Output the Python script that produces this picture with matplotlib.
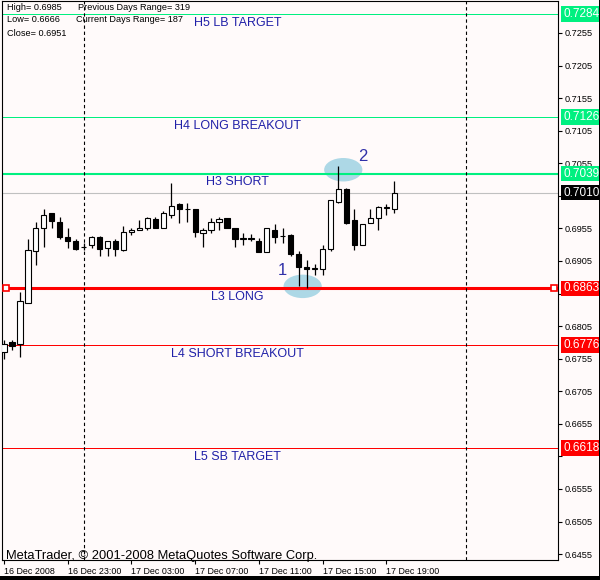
import matplotlib
matplotlib.use('Agg')
import matplotlib.pyplot as plt
from matplotlib.patches import Ellipse, Rectangle

plt.rcParams['font.family'] = ['Liberation Sans', 'DejaVu Sans']

W, H = 600, 580
bg = '#fffafa'

# 30 min candles, 16 Dec 2008 19:00 .. 17 Dec 19:30
opens = [0.6765, 0.6781, 0.6777, 0.6841, 0.6921, 0.6955, 0.6978, 0.6965, 0.6942, 0.6936,
         0.6927, 0.6929, 0.6942, 0.6925, 0.6936, 0.6922, 0.6950, 0.6953, 0.6956, 0.6970,
         0.6956, 0.6975, 0.6993, 0.6985, 0.6984, 0.6948, 0.6952, 0.6965, 0.6971, 0.6955,
         0.6939, 0.6941, 0.6936, 0.6919, 0.6953, 0.6944, 0.6945, 0.6915, 0.6895, 0.6893,
         0.6893, 0.6924, 0.6996, 0.7016, 0.6968, 0.6930, 0.6964, 0.6971, 0.6987, 0.6985]
highs = [0.6783, 0.6784, 0.6858, 0.6939, 0.6965, 0.6985, 0.6979, 0.6973, 0.6956, 0.6939,
         0.6932, 0.6944, 0.6944, 0.6936, 0.6938, 0.6958, 0.6956, 0.6968, 0.6973, 0.6973,
         0.6981, 0.7024, 0.6994, 0.6994, 0.6985, 0.6956, 0.6971, 0.6973, 0.6971, 0.6956,
         0.6948, 0.6947, 0.6941, 0.6955, 0.6962, 0.6956, 0.6947, 0.6921, 0.6906, 0.6901,
         0.6929, 0.6998, 0.7050, 0.7017, 0.6985, 0.6962, 0.6985, 0.6990, 0.6993, 0.7027]
lows = [0.6754, 0.6768, 0.6758, 0.6840, 0.6899, 0.6927, 0.6956, 0.6939, 0.6925, 0.6922,
        0.6922, 0.6925, 0.6912, 0.6912, 0.6912, 0.6921, 0.6945, 0.6952, 0.6953, 0.6955,
        0.6955, 0.6971, 0.6964, 0.6965, 0.6942, 0.6927, 0.6948, 0.6953, 0.6955, 0.6927,
        0.6930, 0.6935, 0.6918, 0.6919, 0.6932, 0.6932, 0.6913, 0.6866, 0.6863, 0.6884,
        0.6884, 0.6921, 0.6994, 0.6962, 0.6922, 0.6929, 0.6964, 0.6952, 0.6976, 0.6979]
closes = [0.6778, 0.6775, 0.6844, 0.6922, 0.6955, 0.6976, 0.6967, 0.6942, 0.6935, 0.6924,
          0.6927, 0.6941, 0.6924, 0.6935, 0.6924, 0.6950, 0.6952, 0.6956, 0.6971, 0.6956,
          0.6978, 0.6990, 0.6985, 0.6984, 0.6950, 0.6952, 0.6965, 0.6970, 0.6955, 0.6939,
          0.6941, 0.6939, 0.6918, 0.6955, 0.6942, 0.6943, 0.6915, 0.6896, 0.6892, 0.6894,
          0.6924, 0.6998, 0.7016, 0.6964, 0.6930, 0.6962, 0.6971, 0.6988, 0.6988, 0.7010]

time_labels = ['16 Dec 2008', '16 Dec 23:00', '17 Dec 03:00', '17 Dec 07:00',
               '17 Dec 11:00', '17 Dec 15:00', '17 Dec 19:00']
time_idx = [0, 8, 16, 24, 32, 40, 48]
day_breaks = [10, 58]

levels = [0.7284, 0.7126, 0.7039, 0.6863, 0.6776, 0.6618]
level_names = ['H5 LB TARGET', 'H4 LONG BREAKOUT', 'H3 SHORT',
               'L3 LONG', 'L4 SHORT BREAKOUT', 'L5 SB TARGET']
current_price = 0.7010

yticks = [0.6455 + 0.005 * k for k in range(17)]
# labels hidden behind the price boxes
hidden_ticks = ['0.6605', '0.6855', '0.7005']

# marked swing points
mark_x = [37.5, 42.6]
mark_y = [0.6866, 0.7045]
mark_num = ['1', '2']
mark_num_x = [34.9, 45.1]
mark_num_y = [0.6890, 0.7066]

green = '#00f080'
red = '#ff0000'
level_colors = [green, green, green, red, red, red]
level_widths = [0.72, 0.72, 1.5, 2.2, 0.72, 0.72]
blue_txt = '#2020a8'


def px(x):
    return x / W


def py(y):
    return 1 - y / H


fig = plt.figure(figsize=(6, 5.8), dpi=100, facecolor=bg)
ax = fig.add_axes([px(2), py(560), px(557.5) - px(2), py(1) - py(560)])
ax.set_facecolor(bg)

ax.set_xlim(-0.25, 69.5)
ax.set_ylim(0.6446, 0.7304)

# levels
for lvl, c, lw in zip(levels, level_colors, level_widths):
    ax.axhline(lvl, color=c, lw=lw, zorder=2)
ax.axhline(current_price, color='#c0c0c0', lw=0.8, zorder=2)

for d in day_breaks:
    ax.axvline(d, color='black', lw=0.8, ls=(0, (3, 2.5)), zorder=2)

# swing highlights
for mx, my in zip(mark_x, mark_y):
    ax.add_patch(Ellipse((mx, my), 4.8, 0.0036, color='#add8e6', lw=0, zorder=1.5))
for t, tx, ty in zip(mark_num, mark_num_x, mark_num_y):
    ax.text(tx, ty, t, color='#3030a8', fontsize=12, ha='center', va='center', zorder=5)

# candles
for i in range(len(opens)):
    o, h, l, c = opens[i], highs[i], lows[i], closes[i]
    ax.vlines(i, l, h, color='black', lw=0.9, zorder=3)
    fc = 'white' if c >= o else 'black'
    ax.bar(i, c - o, bottom=o, width=0.66, color=fc, edgecolor='black', lw=0.8, zorder=4)

# level texts
for lvl, name in zip(levels, level_names):
    ax.annotate(name, xy=(29.3, lvl), xytext=(0, -2), textcoords='offset points',
                ha='center', va='top', color=blue_txt, fontsize=9, zorder=5)

# L3 arrow markers
ax.plot([0.25, 69.1], [levels[3], levels[3]], ls='none', marker='s', ms=4.2,
        mfc='white', mec=red, mew=1.2, zorder=6, clip_on=False)

# axes style
for s in ax.spines.values():
    s.set_color('black')
    s.set_linewidth(0.8)
ax.yaxis.tick_right()
ax.set_yticks(yticks)
ax.set_yticklabels(['' if f'{v:.4f}' in hidden_ticks else f'{v:.4f}' for v in yticks])
ax.tick_params(axis='y', labelsize=6.6, length=3, width=0.8, pad=2, colors='black')
ax.set_xticks(time_idx)
ax.set_xticklabels(time_labels)
for lab in ax.get_xticklabels():
    lab.set_horizontalalignment('left')
ax.tick_params(axis='x', labelsize=6.4, length=3, width=0.8, pad=2, colors='black')

# price boxes on the right
box_prices = levels + [current_price]
box_colors = level_colors + ['black']
for p, c in zip(box_prices, box_colors):
    ax.annotate(f'{p:.4f}', xy=(1, p), xycoords=('axes fraction', 'data'),
                xytext=(4, 0), textcoords='offset points', ha='left', va='center',
                color='white', fontsize=8.5, zorder=10, annotation_clip=False,
                bbox=dict(boxstyle='square,pad=0.15', fc=c, ec='none'))

# info text
fs = 6.6
fig.text(px(7), py(7), 'High= 0.6985', fontsize=fs, va='center', ha='left')
fig.text(px(7), py(20), 'Low= 0.6666', fontsize=fs, va='center', ha='left')
fig.text(px(7), py(33), 'Close= 0.6951', fontsize=fs, va='center', ha='left')
fig.text(px(78), py(7), 'Previous Days Range= 319', fontsize=fs, va='center', ha='left')
fig.text(px(76), py(20), 'Current Days Range= 187', fontsize=fs, va='center', ha='left')
fig.text(px(6), py(559), 'MetaTrader, \u00a9 2001-2008 MetaQuotes Software Corp.',
         fontsize=9.3, va='baseline', ha='left')

# window border
fig.patches.append(Rectangle((0, 0), 1, 4 / H, transform=fig.transFigure,
                             fc='black', ec='none'))
fig.patches.append(Rectangle((599 / W, 0), 1 / W, 1, transform=fig.transFigure,
                             fc='black', ec='none'))

fig.savefig('out.png', dpi=100, facecolor=bg)
